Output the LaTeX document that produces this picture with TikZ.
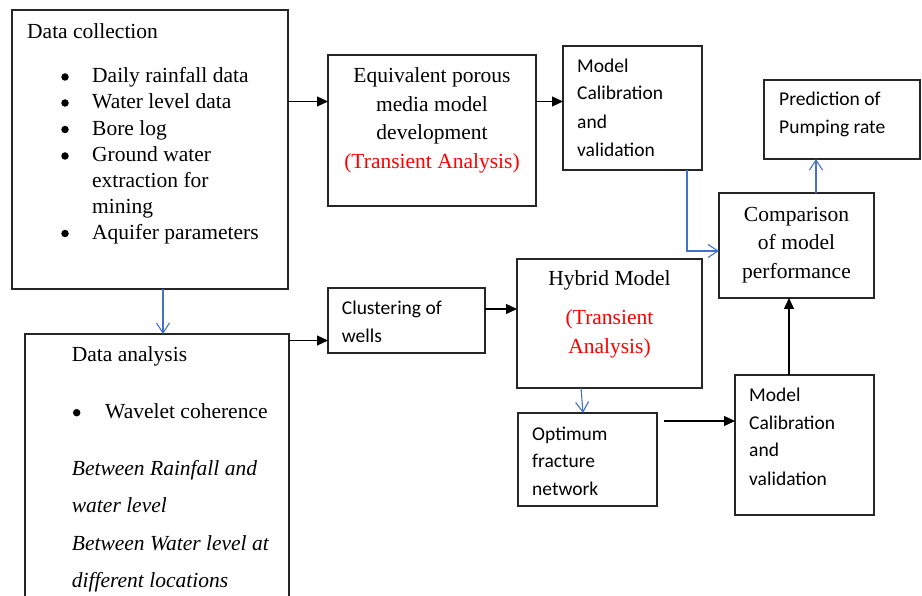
\documentclass[tikz,border=0pt]{standalone}
\usepackage{fontspec}
\setmainfont{Liberation Serif}
\newfontfamily\calfont{Carlito}
\usetikzlibrary{arrows.meta}
\definecolor{linkblue}{RGB}{68,114,196}
\definecolor{notered}{RGB}{255,0,0}

\begin{document}
\begin{tikzpicture}[x=1pt,y=-1pt,
  box/.style={draw=black!85, line width=1.3pt, inner sep=0, outer sep=0},
  txt/.style={inner sep=0, anchor=base west, font=\fontsize{21.5}{26}\selectfont},
  ctxt/.style={inner sep=0, anchor=base, font=\fontsize{21.5}{26}\selectfont},
  itxt/.style={txt, font=\fontsize{21.5}{26}\selectfont\itshape},
  stxt/.style={inner sep=0, anchor=base west, font=\calfont\fontsize{19.5}{24}\selectfont},
  bul/.style={circle, fill=black, inner sep=0, minimum size=7.5pt},
  flow/.style={draw=black, line width=1.2pt, -{Triangle[length=11pt,width=10pt]}},
  bflow/.style={draw=linkblue, line width=1.1pt, -{Straight Barb[length=10pt,width=13pt]}},
]
\useasboundingbox (0,0) rectangle (922,596);
\clip (0,0) rectangle (922,596);

% boxes
\node[box, minimum width=276pt, minimum height=279pt] (A) at (150,149.5) {};
\node[box, minimum width=208pt, minimum height=151pt] (B) at (432,130.5) {};
\node[box, minimum width=139pt, minimum height=124pt] (C) at (632.5,108) {};
\node[box, minimum width=156pt, minimum height=79pt]  (D) at (842,119.5) {};
\node[box, minimum width=155pt, minimum height=105pt] (E) at (796.5,245.5) {};
\node[box, minimum width=139pt, minimum height=140pt] (F) at (804.5,445) {};
\node[box, minimum width=139pt, minimum height=93pt]  (G) at (587.5,459.5) {};
\node[box, minimum width=185pt, minimum height=129pt] (H) at (609.5,323.5) {};
\node[box, minimum width=157pt, minimum height=65pt]  (I) at (406.5,320.5) {};
\node[box, minimum width=264pt, minimum height=290pt] (J) at (157,479) {};

% data collection
\node[txt] (a0) at (27,38.3) {Data collection};
\node[bul] (b1) at (65,77) {};
\node[txt] (a1) at (92,83) {Daily rainfall data};
\node[bul] (b2) at (65,103) {};
\node[txt] (a2) at (92,109) {Water level data};
\node[bul] (b3) at (65,129.5) {};
\node[txt] (a3) at (92,135.5) {Bore log};
\node[bul] (b4) at (65,156) {};
\node[txt] (a4) at (92,162) {Ground water};
\node[txt] (a5) at (92,188) {extraction for};
\node[txt] (a6) at (92,213.5) {mining};
\node[bul] (b7) at (65,233.5) {};
\node[txt] (a7) at (92,239.5) {Aquifer parameters};

% equivalent porous media model
\node[ctxt] (e1) at (432,82.7) {Equivalent porous};
\node[ctxt] (e2) at (432,111.3) {media model};
\node[ctxt] (e3) at (432,140) {development};
\node[ctxt, text=notered] (e4) at (432,168.3) {(Transient Analysis)};

% model calibration (upper)
\node[stxt] (c1) at (577,72.3) {Model};
\node[stxt] (c2) at (577,100) {Calibration};
\node[stxt] (c3) at (577,128.3) {and};
\node[stxt] (c4) at (577,156.7) {validation};

% prediction
\node[stxt] (d1) at (779,105.7) {Prediction of};
\node[stxt] (d2) at (779,133.3) {Pumping rate};

% comparison
\node[ctxt] (m1) at (796.5,221.7) {Comparison};
\node[ctxt] (m2) at (796.5,250) {of model};
\node[ctxt] (m3) at (796.5,278.3) {performance};

% model calibration (lower)
\node[stxt] (f1) at (749,401) {Model};
\node[stxt] (f2) at (749,429) {Calibration};
\node[stxt] (f3) at (749,456.7) {and};
\node[stxt] (f4) at (749,485) {validation};

% optimum fracture network
\node[stxt] (g1) at (532,440) {Optimum};
\node[stxt] (g2) at (532,467.7) {fracture};
\node[stxt] (g3) at (532,495.7) {network};

% hybrid model
\node[ctxt] (h1) at (609.5,286) {Hybrid Model};
\node[ctxt, text=notered] (h2) at (609.5,324.3) {(Transient};
\node[ctxt, text=notered] (h3) at (609.5,353.3) {Analysis)};

% clustering
\node[stxt] (i1) at (341.7,315) {Clustering of};
\node[stxt] (i2) at (341.7,342.7) {wells};

% data analysis
\node[txt] (j1) at (71.7,361.7) {Data analysis};
\node[bul] (jb) at (76.7,412.7) {};
\node[txt] (j2) at (105,418.3) {Wavelet coherence};
\node[itxt] (j3) at (71.7,475) {Between Rainfall and};
\node[itxt] (j4) at (71.7,512.7) {water level};
\node[itxt] (j5) at (71.7,550.7) {Between Water level at};
\node[itxt] (j6) at (71.7,587.3) {different locations};

% connector guides
\coordinate (row1) at (0,101.5);
\coordinate (cb) at (687,251);
\coordinate (ed) at (816,0);
\coordinate (fe) at (789,0);
\coordinate (gfs) at (664,421);
\coordinate (hg1) at (581,0);
\coordinate (hg2) at (583,0);
\coordinate (ih) at (0,309);
\coordinate (ji) at (0,340.5);
\coordinate (aj) at (163,0);

% connectors
\draw[flow] (A.east |- row1) -- (B.west |- row1);
\draw[flow] (B.east |- row1) -- (C.west |- row1);
\draw[bflow] (C.south -| cb) |- (E.west |- cb);
\draw[bflow] (E.north -| ed) -- (D.south -| ed);
\draw[flow] (F.north -| fe) -- (E.south -| fe);
\draw[flow] (gfs) -- (F.west |- gfs);
\draw[bflow] (H.south -| hg1) -- (G.north -| hg2);
\draw[flow] (I.east |- ih) -- (H.west |- ih);
\draw[flow] (J.east |- ji) -- (I.west |- ji);
\draw[bflow] (A.south -| aj) -- (J.north -| aj);
\end{tikzpicture}
\end{document}
